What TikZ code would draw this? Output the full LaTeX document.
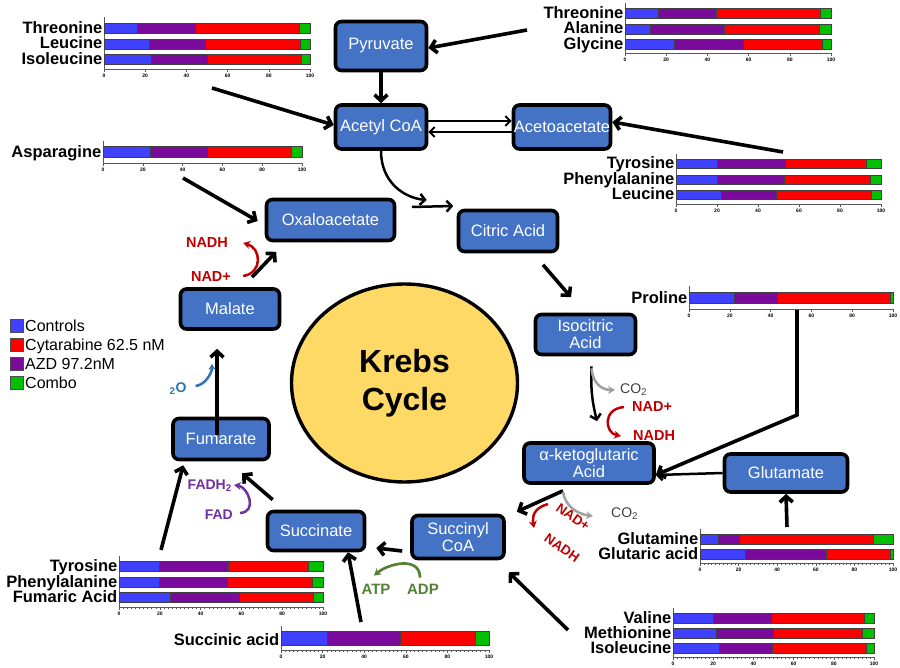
\documentclass[tikz,border=0pt]{standalone}
\usepackage{fontspec}
\setmainfont{Liberation Sans}
\usetikzlibrary{arrows.meta,shapes.geometric}
\definecolor{boxblue}{HTML}{4472C4}
\definecolor{cblue}{HTML}{4040FF}
\definecolor{cpurple}{HTML}{7A0A9C}
\definecolor{cred}{HTML}{FF0000}
\definecolor{cgreen}{HTML}{00C000}
\definecolor{kyellow}{HTML}{FFD966}
\definecolor{nadred}{HTML}{C00000}
\definecolor{co2gray}{HTML}{A0A0A0}
\definecolor{co2text}{HTML}{404040}
\definecolor{atpgreen}{HTML}{548235}
\definecolor{fadpurple}{HTML}{7030A0}
\definecolor{h2oblue}{HTML}{2E75B6}
\tikzset{
 kbox/.style={draw=black, line width=3.6pt, rounded corners=6pt, fill=boxblue, text=white, align=center, inner sep=0pt, font=\fontsize{16.5}{17}\selectfont},
 flow/.style={line width=3.6pt, -{Straight Barb[length=6pt,width=13pt]}},
 midflow/.style={line width=2.5pt, -{Straight Barb[length=5pt,width=11pt]}},
 thinflow/.style={line width=2pt, -{Straight Barb[length=5pt,width=10pt]}},
 rowlab/.style={anchor=base east, inner sep=0pt, font=\bfseries\fontsize{16.5}{16.5}\selectfont},
 ticklab/.style={inner sep=0pt, font=\bfseries\fontsize{5}{5}\selectfont},
 axisline/.style={draw=black!65, line width=0.6pt},
 barline/.style={draw=black!75, line width=0.7pt},
 nadlab/.style={inner sep=0pt, text=nadred, font=\bfseries\fontsize{14.5}{14.5}\selectfont},
 co2lab/.style={inner sep=0pt, text=co2text, font=\fontsize{14}{14}\selectfont},
 atplab/.style={inner sep=0pt, text=atpgreen, font=\bfseries\fontsize{15}{15}\selectfont},
 fadlab/.style={inner sep=0pt, text=fadpurple, font=\bfseries\fontsize{14}{14}\selectfont},
 h2olab/.style={inner sep=0pt, text=h2oblue, font=\bfseries\fontsize{14}{14}\selectfont},
 redarrow/.style={draw=nadred, line width=2.5pt, -{Stealth[length=7pt,width=8pt]}},
 grayarrow/.style={draw=co2gray, line width=2.5pt, -{Stealth[length=7pt,width=8pt]}},
 greenarrow/.style={draw=atpgreen, line width=2.7pt, -{Stealth[length=7pt,width=8pt]}},
 fadarrow/.style={draw=fadpurple, line width=2.5pt, -{Stealth[length=7pt,width=8pt]}},
 h2oarrow/.style={draw=h2oblue, line width=2.5pt, -{Stealth[length=6pt,width=7pt]}},
 legsq/.style={draw=black!70, line width=0.8pt, minimum size=13pt, inner sep=0pt},
 leglab/.style={anchor=base west, inner sep=0pt, font=\fontsize{16}{16}\selectfont},
}
\newcommand{\kbar}[7]{%
  \fill[cblue] (#1,#3) rectangle ({#1+#2/100*#5},{#3+#4});
  \fill[cpurple] ({#1+#2/100*#5},#3) rectangle ({#1+#2/100*#6},{#3+#4});
  \fill[cred] ({#1+#2/100*#6},#3) rectangle ({#1+#2/100*#7},{#3+#4});
  \fill[cgreen] ({#1+#2/100*#7},#3) rectangle ({#1+#2},{#3+#4});
  \draw[barline] (#1,#3) rectangle ({#1+#2},{#3+#4});
  \draw[barline] ({#1+#2/100*#5},#3) -- ++(0,#4);
  \draw[barline] ({#1+#2/100*#6},#3) -- ++(0,#4);
  \draw[barline] ({#1+#2/100*#7},#3) -- ++(0,#4);
}
\newcommand{\kaxis}[4]{%
  \draw[axisline] (#1,#3) -- (#1,#4) -- ({#1+#2},#4);
  \foreach \tk in {0,2,...,100} {\draw[axisline,line width=0.4pt] ({#1+#2/100*\tk},#4) -- ++(0,1.5);}
  \foreach \tk in {0,20,...,100} {\draw[axisline] ({#1+#2/100*\tk},#4) -- ++(0,3);
     \node[ticklab] (tk\tk) at ({#1+#2/100*\tk},{#4+7}) {\tk};}
}
\newcommand{\klab}[4]{\node[rowlab] (#1) at (#2,#3) {#4};}
\begin{document}
\begin{tikzpicture}[x=1pt,y=-1pt]
\useasboundingbox (0,0) rectangle (900,668);
\fill[white] (0,0) rectangle (900,668);

% Krebs cycle
\node[ellipse, draw=black, line width=3.4pt, fill=kyellow, minimum width=226pt, minimum height=198pt, inner sep=0pt, align=center, font=\bfseries\fontsize{32}{38}\selectfont] (krebs) at (404.5,383) {Krebs\\Cycle};

% boxes
\node[kbox, minimum width=91pt, minimum height=49pt] (pyr) at (381,46) {Pyruvate};
\node[kbox, minimum width=91pt, minimum height=44pt] (acoa) at (381,127) {Acetyl CoA};
\node[kbox, minimum width=97pt, minimum height=44pt] (acac) at (562,127) {Acetoacetate};
\node[kbox, minimum width=128pt, minimum height=41pt] (oaa) at (330.5,220) {Oxaloacetate};
\node[kbox, minimum width=99pt, minimum height=41pt] (cit) at (508,231) {Citric Acid};
\node[kbox, minimum width=100pt, minimum height=40pt] (iso) at (585.5,334.5) {Isocitric\\Acid};
\node[kbox, minimum width=130pt, minimum height=40pt] (akg) at (589,463) {α-ketoglutaric\\Acid};
\node[kbox, minimum width=123pt, minimum height=38pt] (glu) at (786,473) {Glutamate};
\node[kbox, minimum width=92pt, minimum height=43pt] (sca) at (458,537) {Succinyl\\CoA};
\node[kbox, minimum width=97pt, minimum height=39pt] (suc) at (316,531) {Succinate};
\node[kbox, minimum width=96pt, minimum height=41pt] (fum) at (221,439) {Fumarate};
\node[kbox, minimum width=99pt, minimum height=40pt] (mal) at (230,309) {Malate};

% charts
\kaxis{104}{206}{17}{69}
\kbar{104}{206}{23}{10}{16}{44.5}{95} \klab{aThr}{102.5}{33.5}{Threonine}
\kbar{104}{206}{39}{10}{22}{49}{95.5} \klab{aLeu}{102.5}{49}{Leucine}
\kbar{104}{206}{54}{10}{23}{50}{96} \klab{aIle}{102.5}{64.5}{Isoleucine}

\kaxis{625}{206}{3}{53}
\kbar{625}{206}{8}{10}{16}{44.5}{95} \klab{bThr}{623.5}{18.5}{Threonine}
\kbar{625}{206}{24}{10}{12.5}{48}{94.5} \klab{bAla}{623.5}{34}{Alanine}
\kbar{625}{206}{39}{10}{24}{57.5}{96} \klab{bGly}{623.5}{49.5}{Glycine}

\kaxis{676}{205}{154}{204}
\kbar{676}{205}{159}{9.5}{20}{53.5}{93} \klab{cTyr}{674.5}{169}{Tyrosine}
\kbar{676}{205}{175}{9.5}{20}{53}{95} \klab{cPhe}{674.5}{184.5}{Phenylalanine}
\kbar{676}{205}{190}{9.5}{22}{49}{95.5} \klab{cLeu}{674.5}{200}{Leucine}

\kaxis{103}{199}{141}{163}
\kbar{103}{199}{146}{11}{24}{52.5}{94.5} \klab{dAsn}{101.5}{157.5}{Asparagine}

\kaxis{689}{204}{286}{309}
\kbar{689}{204}{292}{11}{22}{43.5}{98.5} \klab{ePro}{687.5}{303.5}{Proline}

\kaxis{700}{193}{529}{563}
\kbar{700}{193}{534}{10}{9.5}{20.5}{90} \klab{fGln}{698.5}{544.5}{Glutamine}
\kbar{700}{193}{549}{10}{23.5}{65.5}{98.5} \klab{fGlt}{698.5}{559.5}{Glutaric acid}

\kaxis{673}{201}{608}{657}
\kbar{673}{201}{613}{10}{20}{49}{95} \klab{gVal}{671.5}{623.5}{Valine}
\kbar{673}{201}{628}{10}{21.5}{50}{94} \klab{gMet}{671.5}{638.5}{Methionine}
\kbar{673}{201}{643}{10}{23}{49.5}{96} \klab{gIle}{671.5}{653.5}{Isoleucine}

\kaxis{119}{204}{556}{607}
\kbar{119}{204}{561}{10}{20}{53.5}{93} \klab{hTyr}{117.5}{571.5}{Tyrosine}
\kbar{119}{204}{577}{10}{20}{53}{95} \klab{hPhe}{117.5}{587}{Phenylalanine}
\kbar{119}{204}{592}{10}{25}{59}{95.5} \klab{hFum}{117.5}{602.5}{Fumaric Acid}

\kaxis{281}{208}{626}{650}
\kbar{281}{208}{631}{14}{22.5}{57.5}{93.5} \klab{iSuc}{279.5}{645}{Succinic acid}

% legend
\foreach \c/\t/\y [count=\i] in {cblue/Controls/326, cred/Cytarabine 62.5 nM/344.5, cpurple/AZD 97.2nM/363.5, cgreen/Combo/383} {
  \node[legsq, fill=\c] (lsq\i) at (16.5,\y) {};
  \node[leglab] (leg\i) at (25,\y+5.7) {\t};
}

% cofactor labels
\node[co2lab, anchor=west] (co2a) at (620,390) {CO\textsubscript{2}};
\node[nadlab, anchor=west] (nad1) at (632,407) {NAD+};
\node[nadlab, anchor=west] (nadh1) at (633,436) {NADH};
\node[co2lab, anchor=west] (co2b) at (611,514) {CO\textsubscript{2}};
\node[nadlab, rotate=-35, font=\bfseries\fontsize{13.5}{13.5}\selectfont] (nad2) at (573,517) {NAD+};
\node[nadlab, rotate=-35, font=\bfseries\fontsize{13.5}{13.5}\selectfont] (nadh2) at (562,548) {NADH};
\node[atplab] (atp) at (376,589) {ATP};
\node[atplab] (adp) at (423,589) {ADP};
\node[fadlab, anchor=east] (fad) at (233,515) {FAD};
\node[fadlab, anchor=east] (fadh) at (232,486) {FADH\textsubscript{2}};
\node[h2olab] (h2o) at (178,389) {\textsubscript{2}O};
\node[nadlab] (nad3) at (211,277) {NAD+};
\node[nadlab] (nadh3) at (207,243) {NADH};

% chart arrow origins
\coordinate (c1a) at (212,88);
\coordinate (c2a) at (527,30);
\coordinate (c3a) at (783,152);
\coordinate (c4a) at (183,178);
\coordinate (c5a) at (797,310);
\coordinate (pbend) at (797,415);
\coordinate (c6a) at (787,527);
\coordinate (c7a) at (568,630);
\coordinate (c8a) at (161,550);
\coordinate (c9a) at (361,622);

% connectors
\draw[flow] (c1a) -- ([yshift=2pt]acoa.west);
\draw[flow] (c2a) -- ([yshift=-2pt]pyr.east);
\draw[flow] (pyr) -- (acoa);
\draw[thinflow] ([yshift=6pt]acoa.east) -- ([yshift=6pt]acac.west);
\draw[thinflow] ([yshift=-5pt]acac.west) -- ([yshift=-5pt]acoa.east);
\draw[flow] (c3a) -- ([yshift=5pt]acac.east);
\draw[midflow] (acoa.south) .. controls +(0,32) and +(-22,-2) .. ([xshift=-30pt,yshift=31pt]cit.west);
\draw[midflow] ([xshift=15.5pt,yshift=13pt]oaa.east) -- ([xshift=-3.5pt,yshift=25pt]cit.west);
\draw[flow] (c4a) -- ([xshift=-7pt,yshift=-1pt]oaa.west);
\draw[flow] ([xshift=35pt,yshift=-11.5pt]cit.south) -- ([xshift=-14.5pt,yshift=15.5pt]iso.north);
\draw[midflow] ([xshift=6pt,yshift=-10pt]iso.south) to[bend right=8] ([xshift=8pt,yshift=20pt]akg.north);
\draw[grayarrow] ([xshift=6pt,yshift=-12pt]iso.south) .. controls +(1,14) and +(-14,0) .. ([xshift=-5pt]co2a.west);
\draw[redarrow] ([xshift=-8pt]nad1.west) .. controls +(-22,2) and +(-16,-3) .. ([xshift=-12pt]nadh1.west);
\draw[flow] (c5a) -- (pbend) -- ([yshift=-12pt]akg.east);
\draw[midflow] (glu.west) -- ([yshift=-12pt]akg.east);
\draw[flow] (c6a) -- (glu.south);
\draw[flow] ([xshift=-26pt,yshift=-6pt]akg.south) -- ([xshift=11pt,yshift=2pt]sca.north east);
\draw[grayarrow] ([xshift=-26pt,yshift=-7pt]akg.south) .. controls +(2,14) and +(-16,-2) .. ([xshift=-18pt,yshift=-2pt]co2b.west);
\draw[redarrow] ([xshift=-25pt,yshift=13pt]nad2.center) .. controls +(-14,4) and +(-2,-12) .. ([xshift=-28pt,yshift=20pt]nadh2.center);
\draw[flow] ([xshift=-8pt,yshift=-14pt]sca.west) -- ([xshift=10pt,yshift=-17pt]suc.east);
\draw[greenarrow] ([xshift=-3pt,yshift=6pt]adp.north) .. controls +(0,-22) and +(14,-12) .. ([xshift=-2pt,yshift=8pt]atp.north);
\draw[flow] (c9a) -- ([xshift=32pt]suc.south);
\draw[flow] (c7a) -- ([xshift=3pt,yshift=-12pt]sca.south east);
\draw[flow] ([xshift=7pt,yshift=10pt]suc.north west) -- ([xshift=21pt,yshift=-12pt]fum.south);
\draw[fadarrow] ([xshift=7pt,yshift=2pt]fad.east) .. controls +(18,-1) and +(14,2) .. ([xshift=2pt,yshift=1pt]fadh.east);
\draw[flow] (c8a) -- ([xshift=12pt,yshift=-4pt]fum.south west);
\draw[flow] ([xshift=-4pt,yshift=-18pt]fum.north) -- ([xshift=-13pt,yshift=-18pt]mal.south);
\draw[h2oarrow] ([xshift=9pt,yshift=3pt]h2o.east) .. controls +(9,-1) and +(0,10) .. ([xshift=-18pt,yshift=-33pt]mal.south);
\draw[flow] ([xshift=22pt,yshift=10pt]mal.north) -- ([xshift=11.5pt,yshift=-9.5pt]oaa.south west);
\draw[redarrow] ([xshift=12pt,yshift=1pt]nad3.east) .. controls +(20,-3) and +(18,5) .. ([xshift=15pt]nadh3.east);
\end{tikzpicture}
\end{document}
